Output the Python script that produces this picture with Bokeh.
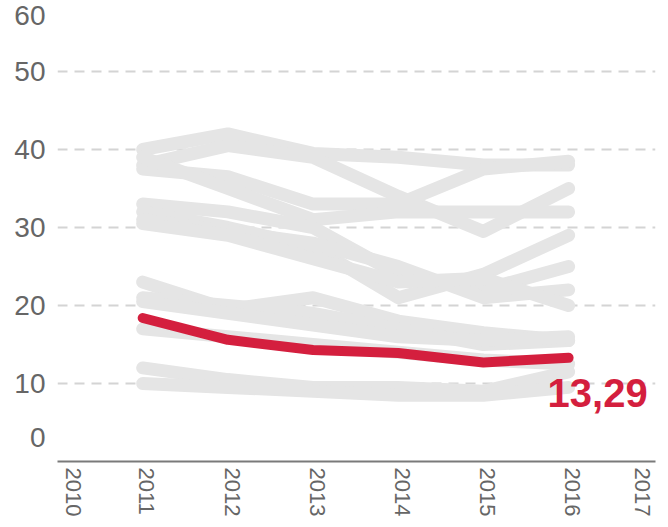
from bokeh.plotting import figure
from bokeh.models import Range1d, FixedTicker
from bokeh.core.properties import value
from bokeh.embed import file_html
from bokeh.resources import INLINE

years = [2011, 2012, 2013, 2014, 2015, 2016]

grey_series = [
    [40.0, 42.0, 39.5, 39.0, 38.0, 38.0],
    [38.0, 40.5, 39.0, 34.0, 29.5, 35.0],
    [37.5, 36.5, 33.0, 33.0, 37.5, 38.5],
    [39.0, 35.0, 31.0, 32.0, 32.0, 32.0],
    [33.0, 32.0, 30.0, 24.0, 22.0, 25.0],
    [32.0, 30.0, 27.5, 21.0, 24.0, 29.0],
    [31.0, 29.5, 28.0, 25.0, 21.0, 22.0],
    [30.5, 29.0, 26.0, 23.0, 23.5, 20.0],
    [23.0, 19.5, 21.0, 18.0, 16.5, 15.5],
    [21.0, 20.0, 19.0, 17.0, 15.0, 15.5],
    [20.5, 19.0, 17.5, 16.0, 15.5, 16.0],
    [17.0, 16.0, 15.0, 14.0, 13.0, 12.5],
    [12.0, 10.5, 9.5, 9.5, 9.0, 11.5],
    [10.0, 9.5, 9.0, 8.5, 8.5, 9.5],
]

red_series = [18.4, 15.6, 14.3, 13.9, 12.7, 13.29]

x_tick_pos = [2010.19, 2011.05, 2012.05, 2013.05, 2014.05, 2015.05, 2016.05, 2016.87]
x_tick_labels = ["2010", "2011", "2012", "2013", "2014", "2015", "2016", "2017"]
y_tick_pos = [3.08, 10, 20, 30, 40, 50, 57.2]
y_tick_labels = ["0", "10", "20", "30", "40", "50", "60"]
grid_values = [10, 20, 30, 40, 50]

FONT = "Liberation Sans"
LABEL_COLOR = "#666666"
GREY = "#e5e5e5"
RED = "#d41f3e"

p = figure(width=668, height=527, output_backend="svg", toolbar_location=None,
           x_range=Range1d(2010.0, 2017.02), y_range=Range1d(0, 59.1),
           min_border_left=57, min_border_right=13, min_border_top=0, min_border_bottom=66)
p.outline_line_color = None
p.background_fill_color = "white"
p.border_fill_color = "white"

for s in grey_series:
    p.line(years, s, line_color=GREY, line_width=13, line_cap="round", line_join="round")

p.line(years, red_series, line_color=RED, line_width=10, line_cap="round", line_join="round")

label = f"{red_series[-1]:.2f}".replace(".", ",")
p.text(x=[years[-1]], y=[red_series[-1]], text=[label], text_color=RED,
       text_font=value(FONT), text_font_style="bold", text_font_size="40px",
       text_align="left", text_baseline="middle", x_offset=-21, y_offset=35)

# x axis
xa = p.xaxis[0]
xa.ticker = FixedTicker(ticks=x_tick_pos)
xa.major_label_overrides = {t: l for t, l in zip(x_tick_pos, x_tick_labels)}
xa.major_label_orientation = "vertical"
xa.major_label_text_font = FONT
xa.major_label_text_font_size = "22px"
xa.major_label_text_color = LABEL_COLOR
xa.major_tick_line_color = None
xa.minor_tick_line_color = None
xa.major_tick_out = 0
xa.major_tick_in = 0
xa.minor_tick_out = 0
xa.minor_tick_in = 0
xa.axis_line_color = "#7a7a7a"
xa.axis_line_width = 2
xa.major_label_standoff = 6

# y axis
ya = p.yaxis[0]
ya.ticker = FixedTicker(ticks=y_tick_pos)
ya.major_label_overrides = {t: l for t, l in zip(y_tick_pos, y_tick_labels)}
ya.major_label_text_font = FONT
ya.major_label_text_font_size = "28px"
ya.major_label_text_color = LABEL_COLOR
ya.major_tick_line_color = None
ya.minor_tick_line_color = None
ya.major_tick_out = 0
ya.major_tick_in = 0
ya.minor_tick_out = 0
ya.minor_tick_in = 0
ya.axis_line_color = None
ya.major_label_standoff = 12

p.xgrid.grid_line_color = None
p.ygrid.ticker = FixedTicker(ticks=grid_values)
p.ygrid.grid_line_color = "#d4d4d4"
p.ygrid.grid_line_width = 2
p.ygrid.grid_line_dash = "10 7"

open("out.html", "w").write(file_html(p, INLINE))
